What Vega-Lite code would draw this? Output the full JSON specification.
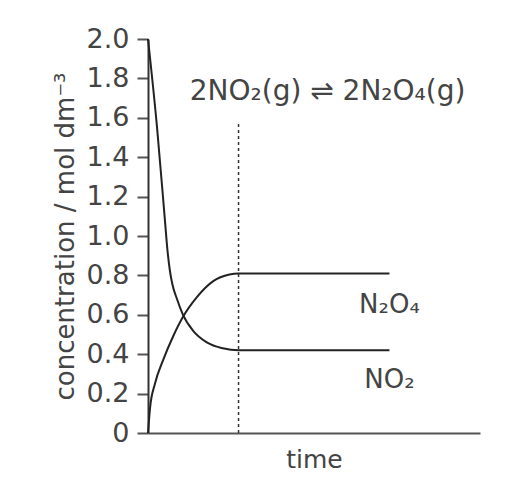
{
  "$schema": "https://vega.github.io/schema/vega-lite/v6.json",
  "width": 332,
  "height": 394,
  "autosize": {"type": "none"},
  "padding": {"left": 148, "top": 39, "right": 40, "bottom": 65},
  "background": "white",
  "config": {
    "view": {"stroke": null},
    "font": "DejaVu Sans"
  },
  "datasets": {
    "curves": [
      {"t": 0, "c": 2.0, "s": "NO2"},
      {"t": 0.3, "c": 1.55, "s": "NO2"},
      {"t": 0.55, "c": 1.1, "s": "NO2"},
      {"t": 0.65, "c": 0.92, "s": "NO2"},
      {"t": 0.72, "c": 0.83, "s": "NO2"},
      {"t": 0.8, "c": 0.76, "s": "NO2"},
      {"t": 0.96, "c": 0.68, "s": "NO2"},
      {"t": 1.16, "c": 0.6, "s": "NO2"},
      {"t": 1.49, "c": 0.52, "s": "NO2"},
      {"t": 1.95, "c": 0.46, "s": "NO2"},
      {"t": 2.48, "c": 0.43, "s": "NO2"},
      {"t": 3.0, "c": 0.42, "s": "NO2"},
      {"t": 8.0, "c": 0.42, "s": "NO2"},
      {"t": 0, "c": 0, "s": "N2O4"},
      {"t": 0.07, "c": 0.13, "s": "N2O4"},
      {"t": 0.23, "c": 0.25, "s": "N2O4"},
      {"t": 0.5, "c": 0.37, "s": "N2O4"},
      {"t": 0.83, "c": 0.49, "s": "N2O4"},
      {"t": 1.16, "c": 0.59, "s": "N2O4"},
      {"t": 1.62, "c": 0.69, "s": "N2O4"},
      {"t": 2.15, "c": 0.77, "s": "N2O4"},
      {"t": 2.7, "c": 0.805, "s": "N2O4"},
      {"t": 3.0, "c": 0.81, "s": "N2O4"},
      {"t": 8.0, "c": 0.81, "s": "N2O4"}
    ],
    "marker": [{"t": 3, "c0": 0, "c1": 1.58}],
    "labels": [
      {"t": 8, "c": 0.65, "label": "N₂O₄", "align": "right", "size": 26},
      {"t": 8, "c": 0.27, "label": "NO₂", "align": "right", "size": 26},
      {"t": 5.95, "c": 1.73, "label": "2NO₂(g) ⇌ 2N₂O₄(g)", "align": "center", "size": 28}
    ]
  },
  "layer": [
    {
      "data": {"name": "curves"},
      "mark": {"type": "line", "color": "#222", "strokeWidth": 2, "interpolate": "monotone"},
      "encoding": {
        "x": {
          "field": "t",
          "type": "quantitative",
          "scale": {"domain": [0, 11], "nice": false},
          "axis": {
            "title": "time",
            "grid": false,
            "labels": false,
            "ticks": false,
            "domainColor": "#555",
            "domainWidth": 2,
            "titleFont": "DejaVu Sans",
            "titleFontSize": 25,
            "titleFontWeight": "normal",
            "titleColor": "#444",
            "titlePadding": 14
          }
        },
        "y": {
          "field": "c",
          "type": "quantitative",
          "scale": {"domain": [0, 2], "nice": false},
          "axis": {
            "title": "concentration / mol dm⁻³",
            "grid": false,
            "tickCount": 10,
            "labelOverlap": false,
            "labelExpr": "datum.value == 0 ? '0' : format(datum.value, '.1f')",
            "labelFont": "DejaVu Sans",
            "labelFontSize": 27,
            "labelColor": "#444",
            "labelPadding": 8,
            "ticks": true,
            "tickSize": 11,
            "tickColor": "#555555",
            "tickWidth": 2,
            "domainColor": "#333",
            "domainWidth": 2,
            "titleFont": "DejaVu Sans",
            "titleFontSize": 26,
            "titleFontWeight": "normal",
            "titleColor": "#444",
            "titlePadding": 8
          }
        },
        "detail": {"field": "s"}
      }
    },
    {
      "data": {"name": "marker"},
      "mark": {"type": "rule", "color": "#333", "strokeWidth": 1.5, "strokeDash": [3, 3]},
      "encoding": {
        "x": {"field": "t", "type": "quantitative"},
        "y": {"field": "c0", "type": "quantitative"},
        "y2": {"field": "c1"}
      }
    },
    {
      "data": {"name": "labels"},
      "mark": {"type": "text", "color": "#444", "baseline": "middle", "font": "DejaVu Sans"},
      "encoding": {
        "x": {"field": "t", "type": "quantitative"},
        "y": {"field": "c", "type": "quantitative"},
        "text": {"field": "label"},
        "size": {"field": "size", "type": "quantitative", "scale": null},
        "align": {"field": "align", "type": "nominal", "scale": null}
      }
    }
  ]
}
